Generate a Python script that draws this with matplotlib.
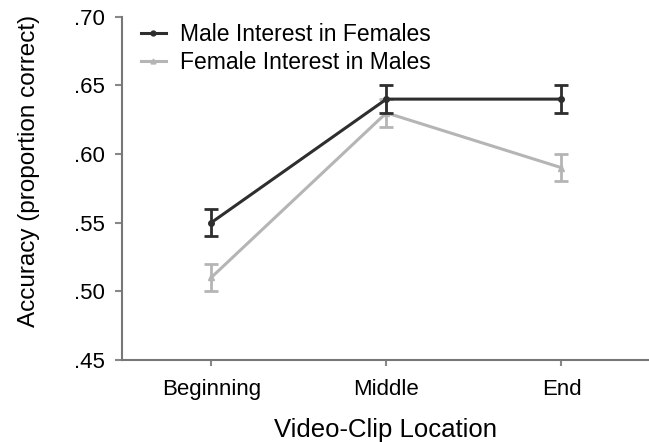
import matplotlib
matplotlib.use("Agg")
import matplotlib.pyplot as plt
from matplotlib.lines import Line2D

locations = ["Beginning", "Middle", "End"]
male_vals = [0.55, 0.64, 0.64]
male_err = [0.01, 0.01, 0.01]
female_vals = [0.51, 0.63, 0.59]
female_err = [0.01, 0.01, 0.01]
yticks = [0.45, 0.50, 0.55, 0.60, 0.65, 0.70]
ytick_labels = [".45", ".50", ".55", ".60", ".65", ".70"]

plt.rcParams['font.family'] = ['Liberation Sans', 'DejaVu Sans']

male_color = "#2e2e2e"
female_color = "#b5b5b5"

fig = plt.figure(figsize=(6.49, 4.42), dpi=100)
ax = fig.add_axes([0.188, 0.186, 0.812, 0.776])

x = list(range(len(locations)))
ax.errorbar(x, female_vals, yerr=female_err, color=female_color, lw=2.2,
            marker="^", ms=4, capsize=5, capthick=2, elinewidth=2, zorder=2)
ax.errorbar(x, male_vals, yerr=male_err, color=male_color, lw=2.2,
            marker="o", ms=4, capsize=5, capthick=2, elinewidth=2, zorder=3)

ax.set_xlim(-0.51, 2.5)
ax.set_ylim(0.45, 0.70)
ax.set_yticks(yticks)
ax.set_yticklabels(ytick_labels)
ax.set_xticks(x)
ax.set_xticklabels(locations)
ax.tick_params(axis='both', labelsize=16, colors="#888888", labelcolor="black",
               length=5, width=1.5)
ax.tick_params(axis='y', pad=7)
ax.tick_params(axis='x', length=4, pad=10)
for s in ["top", "right"]:
    ax.spines[s].set_visible(False)
for s in ["left", "bottom"]:
    ax.spines[s].set_color("#777777")
    ax.spines[s].set_linewidth(1.5)

ax.set_xlabel("Video-Clip Location", fontsize=18.5, labelpad=13)
ax.set_ylabel("Accuracy (proportion correct)", fontsize=17.5)
ax.yaxis.set_label_coords(-0.155, 0.55)

handles = [Line2D([0], [0], color=male_color, lw=2.2, marker="o", ms=3.5),
           Line2D([0], [0], color=female_color, lw=2.2, marker="^", ms=3.5)]
labels = ["Male Interest in Females", "Female Interest in Males"]
ax.legend(handles, labels, loc="upper left", frameon=False,
          fontsize=16.5, bbox_to_anchor=(0.005, 1.03), handlelength=1.1,
          handletextpad=0.6, labelspacing=0.25, borderaxespad=0.3)

fig.savefig("out.png", dpi=100)
